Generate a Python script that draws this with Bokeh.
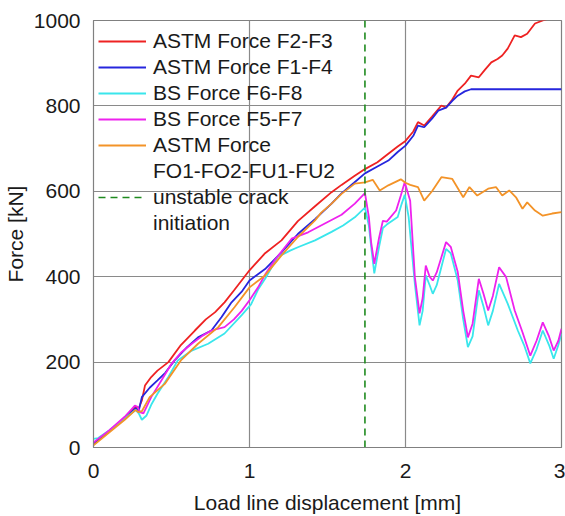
from bokeh.plotting import figure
from bokeh.models import Legend, LegendItem, Range1d, FixedTicker
from bokeh.embed import file_html
from bokeh.resources import INLINE

# ---- data ----
red_x = [0, 0.1, 0.2, 0.27, 0.29, 0.31, 0.33, 0.37, 0.41, 0.48, 0.56, 0.65, 0.72, 0.78, 0.84, 0.905,
         1.0, 1.10, 1.205, 1.31, 1.42, 1.526, 1.59, 1.67, 1.74, 1.82, 1.89, 1.95, 2.0, 2.05, 2.08,
         2.12, 2.17, 2.23, 2.26, 2.30, 2.335, 2.38, 2.42, 2.47, 2.51, 2.55, 2.59, 2.62, 2.655, 2.70,
         2.74, 2.78, 2.83, 2.88, 2.92]
red_y = [8, 38, 68, 95, 92, 110, 145, 165, 180, 200, 240, 274, 300, 317, 340, 370,
         415, 455, 485, 530, 565, 598, 615, 635, 652, 668, 688, 705, 718, 740, 762,
         754, 775, 801, 796, 815, 836, 852, 871, 867, 885, 902, 910, 918, 934, 965,
         961, 969, 993, 1000, 1005]

blue_x = [0, 0.1, 0.2, 0.27, 0.29, 0.31, 0.36, 0.41, 0.46, 0.52, 0.6, 0.67, 0.756, 0.82, 0.885, 0.95,
          1.0, 1.10, 1.205, 1.31, 1.42, 1.526, 1.59, 1.67, 1.74, 1.82, 1.89, 1.95, 2.0, 2.05, 2.08,
          2.12, 2.17, 2.21, 2.26, 2.30, 2.335, 2.38, 2.42, 3.0]
blue_y = [8, 38, 68, 92, 86, 118, 140, 157, 175, 204, 235, 258, 274, 305, 340, 365,
          391, 418, 457, 500, 535, 571, 595, 620, 642, 658, 672, 692, 707, 730, 754,
          750, 770, 789, 796, 812, 824, 834, 839, 839]

cyan_x = [0, 0.03, 0.1, 0.2, 0.27, 0.29, 0.31, 0.34, 0.37, 0.41, 0.48, 0.54, 0.63, 0.735, 0.84, 0.95,
          1.01, 1.055, 1.10, 1.18, 1.26, 1.31, 1.42, 1.526, 1.60, 1.675, 1.74, 1.765, 1.78, 1.80,
          1.83, 1.855, 1.88, 1.95, 1.975, 1.995, 2.02, 2.06, 2.09, 2.11, 2.13, 2.155, 2.175, 2.2,
          2.26, 2.29, 2.335, 2.37, 2.40, 2.43, 2.47, 2.50, 2.53, 2.56, 2.60, 2.655, 2.72, 2.76,
          2.80, 2.84, 2.88, 2.92, 2.95, 2.98, 3.0]
cyan_y = [20, 22, 40, 68, 88, 80, 65, 75, 100, 126, 165, 204, 227, 243, 267, 310,
          335, 370, 395, 446, 461, 469, 485, 505, 520, 539, 562, 520, 470, 408,
          469, 514, 522, 540, 570, 592, 540, 383, 286, 320, 403, 380, 360, 380,
          465, 455, 391, 300, 235, 260, 368, 330, 286, 320, 383, 337, 274, 240,
          197, 230, 274, 240, 208, 240, 267]

mag_x = [0, 0.1, 0.2, 0.265, 0.28, 0.30, 0.32, 0.37, 0.44, 0.5, 0.56, 0.63, 0.70, 0.756, 0.84, 0.90,
         0.95, 1.0, 1.055, 1.10, 1.16, 1.27, 1.376, 1.48, 1.59, 1.675, 1.74, 1.765, 1.78, 1.80,
         1.83, 1.855, 1.88, 1.94, 1.97, 1.995, 2.03, 2.06, 2.09, 2.11, 2.13, 2.155, 2.175, 2.2,
         2.26, 2.29, 2.335, 2.37, 2.40, 2.43, 2.47, 2.50, 2.53, 2.56, 2.60, 2.645, 2.70, 2.75,
         2.80, 2.84, 2.88, 2.92, 2.95, 2.98, 3.0]
mag_y = [12, 40, 72, 98, 96, 82, 80, 118, 160, 196, 222, 243, 262, 274, 282, 300,
         320, 345, 375, 405, 438, 489, 504, 524, 545, 571, 596, 540, 480, 430,
         490, 531, 529, 555, 590, 621, 578, 399, 314, 350, 426, 400, 391, 410,
         481, 470, 411, 320, 258, 290, 395, 360, 321, 355, 422, 399, 321, 270,
         215, 250, 293, 260, 227, 250, 278]

orange_x = [0, 0.1, 0.2, 0.27, 0.286, 0.31, 0.36, 0.457, 0.56, 0.67, 0.80, 0.905, 1.0, 1.10, 1.205,
            1.31, 1.42, 1.46, 1.526, 1.59, 1.675, 1.74, 1.79, 1.835, 1.89, 1.97, 2.0, 2.03, 2.08,
            2.12, 2.17, 2.23, 2.30, 2.37, 2.41, 2.46, 2.53, 2.58, 2.62, 2.665, 2.71, 2.75, 2.78,
            2.83, 2.88, 2.94, 3.0]
orange_y = [5, 35, 65, 88, 83, 85, 118, 149, 204, 243, 282, 329, 375, 403, 450,
            493, 532, 550, 571, 594, 618, 621, 627, 602, 614, 628, 620, 615, 610,
            578, 600, 633, 629, 586, 610, 590, 606, 610, 590, 602, 585, 559, 574,
            555, 543, 548, 551]

crack_x = [1.74, 1.74]
crack_y = [0, 1000]

x_ticks = [0, 1, 2, 3]
y_ticks = [0, 200, 400, 600, 800, 1000]

legend_labels = ["ASTM Force F2-F3", "ASTM Force F1-F4", "BS Force F6-F8", "BS Force F5-F7",
                 "ASTM Force", "FO1-FO2-FU1-FU2", "unstable crack", "initiation"]

FONT = "Liberation Sans"
FS = "21px"

p = figure(width=565, height=516, output_backend="svg", toolbar_location=None,
           x_range=Range1d(0, 3), y_range=Range1d(0, 1000),
           min_border_left=92, min_border_top=20, min_border_right=4, min_border_bottom=69,
           x_axis_label="Load line displacement [mm]", y_axis_label="Force [kN]")

p.outline_line_color = "#808080"
p.outline_line_width = 1.2
for ax in (p.xaxis[0], p.yaxis[0]):
    ax.axis_line_color = "#808080"
    ax.major_tick_line_color = None
    ax.minor_tick_line_color = None
    ax.major_label_text_font = FONT
    ax.major_label_text_font_size = FS
    ax.major_label_text_color = "#1a1a1a"
    ax.axis_label_text_font = FONT
    ax.axis_label_text_font_size = FS
    ax.axis_label_text_font_style = "normal"
    ax.axis_label_text_color = "#1a1a1a"
p.xaxis.ticker = FixedTicker(ticks=x_ticks)
p.yaxis.ticker = FixedTicker(ticks=y_ticks)
p.xaxis.major_label_standoff = 10
p.yaxis.major_label_standoff = 7
p.xaxis.axis_label_standoff = 10
p.yaxis.axis_label_standoff = 4

p.xgrid.grid_line_color = "#8a8a8a"
p.ygrid.grid_line_color = "#8a8a8a"
p.xgrid.grid_line_width = 1.2
p.ygrid.grid_line_width = 1.2

LW = 1.8
r1 = p.line(red_x, red_y, line_color="#ee2222", line_width=LW)
r2 = p.line(blue_x, blue_y, line_color="#2626dd", line_width=LW)
r3 = p.line(cyan_x, cyan_y, line_color="#3ae6ec", line_width=LW)
r4 = p.line(mag_x, mag_y, line_color="#ee22ee", line_width=LW)
r5 = p.line(orange_x, orange_y, line_color="#f39328", line_width=LW)
r6 = p.line(crack_x, crack_y, line_color="#1f8a1f", line_width=1.6, line_dash="7 5")
# invisible renderer for continuation lines of two-line legend entries
blank = p.line([0], [0], line_alpha=0)

legend = Legend(items=[
    LegendItem(label=legend_labels[0], renderers=[r1]),
    LegendItem(label=legend_labels[1], renderers=[r2]),
    LegendItem(label=legend_labels[2], renderers=[r3]),
    LegendItem(label=legend_labels[3], renderers=[r4]),
    LegendItem(label=legend_labels[4], renderers=[r5]),
    LegendItem(label=legend_labels[5], renderers=[blank]),
    LegendItem(label=legend_labels[6], renderers=[r6]),
    LegendItem(label=legend_labels[7], renderers=[blank]),
], location=(5, 211))
legend.background_fill_alpha = 0
legend.border_line_color = None
legend.label_text_font = FONT
legend.label_text_font_size = FS
legend.label_text_color = "#1a1a1a"
legend.glyph_width = 48
legend.glyph_height = 26
legend.label_height = 26
legend.label_standoff = 7
legend.spacing = 0
legend.padding = 4
legend.margin = 0
p.add_layout(legend)

open("out.html", "w").write(file_html(p, INLINE))
